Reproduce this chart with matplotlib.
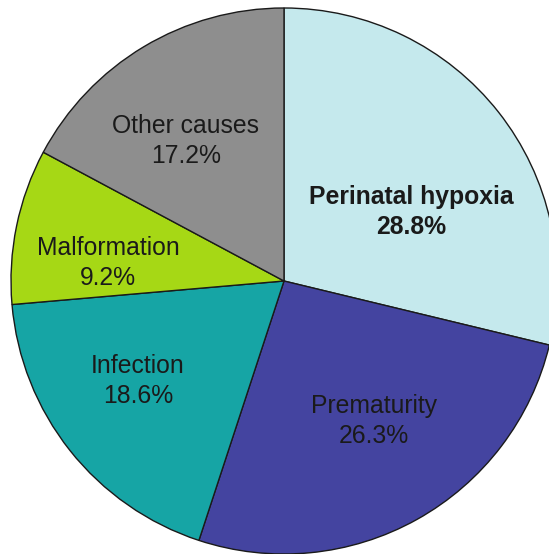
import matplotlib
matplotlib.use("Agg")
import matplotlib.pyplot as plt

categories = ["Perinatal hypoxia", "Prematurity", "Infection", "Malformation", "Other causes"]
values = [28.8, 26.3, 18.6, 9.2, 17.2]
colors = ["#c5e9ed", "#4444a0", "#16a5a5", "#a6d815", "#8e8e8e"]
label_pos = [(411, 342), (374, 133), (138, 173), (108, 291), (186, 413)]
bold = [True, False, False, False, False]

fig = plt.figure(figsize=(5.49, 5.54), dpi=100)
ax = fig.add_axes([0, 0, 1, 1])
ax.pie(values, colors=colors, startangle=90, counterclock=False,
       center=(284, 273), radius=273,
       wedgeprops=dict(edgecolor="#1a1a1a", linewidth=1.0))
ax.set_xlim(0, 549)
ax.set_ylim(0, 554)
ax.set_aspect("equal")
ax.axis("off")

for cat, v, (x, y), b in zip(categories, values, label_pos, bold):
    ax.text(x, y, f"{cat}\n{v:.1f}%", ha="center", va="center",
            fontsize=17.8, family="Liberation Sans", color="#1a1a1a",
            fontweight="bold" if b else "normal", linespacing=1.32)

fig.savefig("out.png", dpi=100)
